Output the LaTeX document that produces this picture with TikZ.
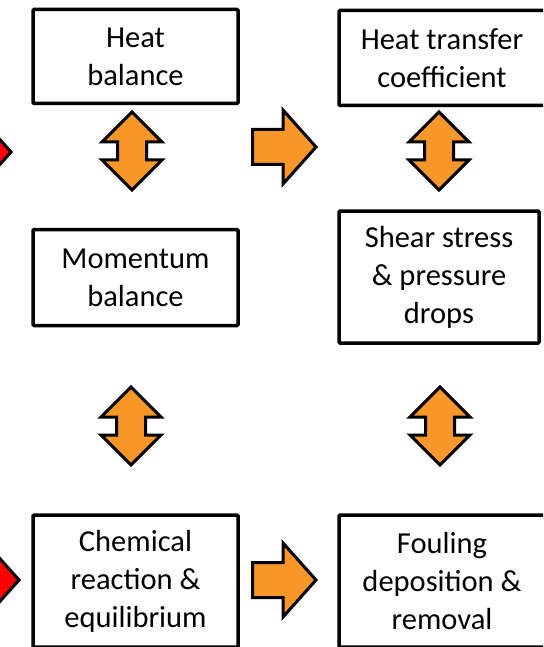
\documentclass[tikz,border=0pt]{standalone}
\usepackage{fontspec}
\setmainfont{Carlito}
\usepackage{tikz}

\definecolor{arroworange}{RGB}{247,150,41}
\definecolor{arrowred}{RGB}{255,0,0}

\begin{document}
\begin{tikzpicture}[x=1pt,y=-1pt,
  box/.style={draw, line width=3.5pt, rounded corners=1pt, align=center,
    inner sep=0pt, font=\fontsize{30.5}{38}\selectfont},
  fatarrow/.style={draw, line width=3pt, line join=miter, fill=arroworange}]

\useasboundingbox (0,0) rectangle (543,647);
\clip (0,0) rectangle (543,647);

% boxes
\node[box, minimum width=205pt, minimum height=94pt] (heat) at (135.5,56.5) {Heat\\balance};
\node[box, minimum width=206pt, minimum height=95pt] (transfer) at (442,58) {Heat transfer\\coefficient};
\node[box, minimum width=205pt, minimum height=96pt] (momentum) at (135.5,277.5) {Momentum\\balance};
\node[box, minimum width=200pt, minimum height=132pt] (shear) at (439,277) {Shear stress\\\& pressure\\drops};
\node[box, minimum width=205pt, minimum height=132pt] (chemical) at (135.5,581) {Chemical\\reaction \&\\equilibrium};
\node[box, minimum width=206pt, minimum height=132pt] (fouling) at (442,581) {Fouling\\deposition \&\\removal};

% up-down arrows
\foreach \p in {(132,151),(439,151),(131,426),(440,426)}
    \draw[fatarrow, shift=\p] (0,-39) -- (30,-9) -- (14.5,-9) -- (14.5,9) -- (30,9)
        -- (0,39) -- (-30,9) -- (-14.5,9) -- (-14.5,-9) -- (-30,-9) -- cycle;

% right arrows
\foreach \p/\c in {(284,147)/arroworange,(284,580)/arroworange,(-21,152)/arrowred,(-13,580)/arrowred}
    \draw[fatarrow, fill=\c, shift=\p] (-31.5,-17.5) -- (-1,-17.5) -- (-1,-37) -- (32,0)
        -- (-1,37) -- (-1,17.5) -- (-31.5,17.5) -- cycle;

\end{tikzpicture}
\end{document}
